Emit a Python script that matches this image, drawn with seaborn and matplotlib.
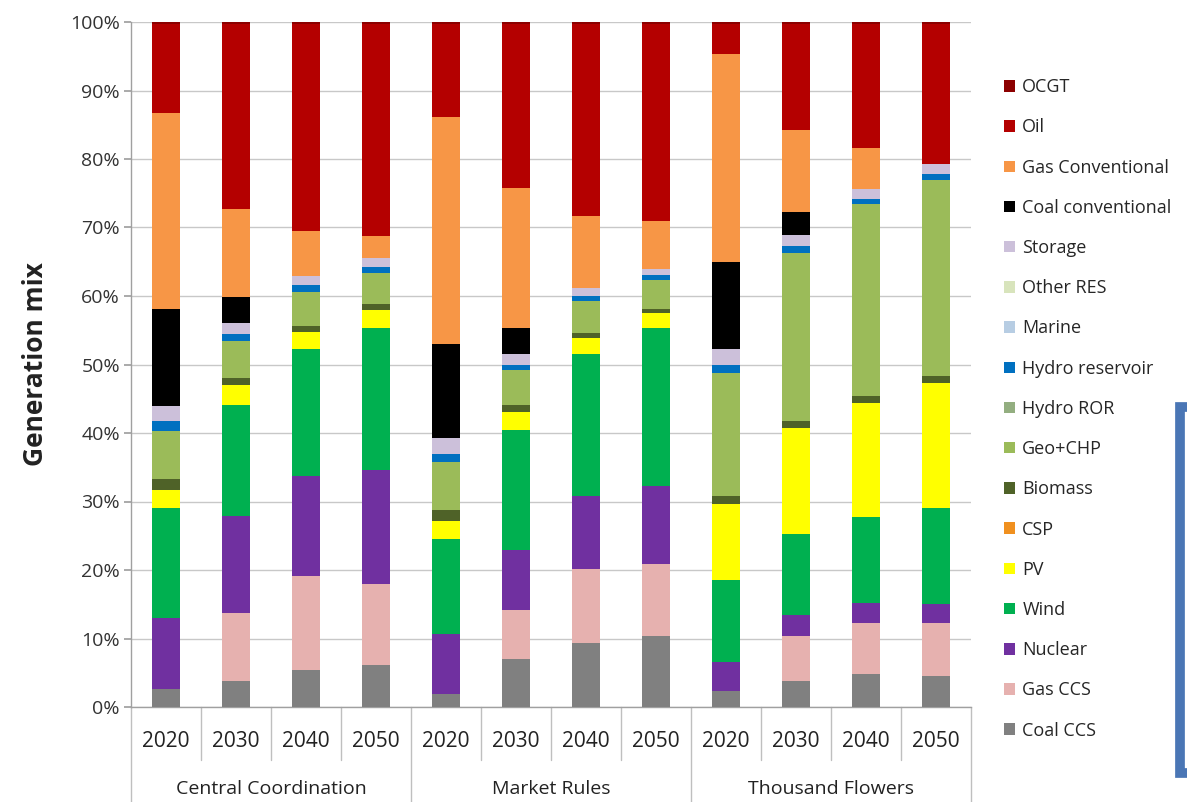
import numpy as np
import pandas as pd
import matplotlib
matplotlib.use("Agg")
import matplotlib.pyplot as plt
from matplotlib.patches import Rectangle, Patch
from matplotlib.transforms import blended_transform_factory
import seaborn as sns

# Scenario / year layout
scenarios = ["Central Coordination", "Market Rules", "Thousand Flowers"]
years = ["2020", "2030", "2040", "2050"]

# Technologies, bottom of the stack first
technologies = ["Coal CCS", "Gas CCS", "Nuclear", "Wind", "PV", "CSP", "Biomass",
                "Geo+CHP", "Hydro ROR", "Hydro reservoir", "Marine", "Other RES",
                "Storage", "Coal conventional", "Gas Conventional", "Oil", "OCGT"]

# Share of generation (%) per bar: CC 2020..2050, MR 2020..2050, TF 2020..2050
coal_ccs = [2.6, 3.8, 5.4, 6.2, 1.9, 7.0, 9.4, 10.3, 2.4, 3.8, 4.8, 4.5]
gas_ccs = [0.0, 9.9, 13.7, 11.8, 0.0, 7.1, 10.7, 10.6, 0.0, 6.6, 7.4, 7.7]
nuclear = [10.4, 14.2, 14.6, 16.6, 8.8, 8.8, 10.7, 11.4, 4.1, 3.0, 3.0, 2.8]
wind = [16.0, 16.2, 18.6, 20.8, 13.8, 17.5, 20.8, 23.1, 12.0, 11.9, 12.5, 14.1]
pv = [2.7, 2.9, 2.4, 2.5, 2.6, 2.7, 2.2, 2.1, 11.1, 15.4, 16.7, 18.2]
csp = [0.0] * 12
biomass = [1.6, 1.1, 0.9, 0.9, 1.7, 1.0, 0.8, 0.6, 1.2, 1.0, 1.0, 1.0]
geo_chp = [7.0, 5.4, 5.0, 4.6, 7.0, 5.1, 4.6, 4.2, 18.0, 24.6, 28.0, 28.6]
hydro_ror = [0.0] * 12
hydro_res = [1.5, 0.9, 1.0, 0.9, 1.1, 0.8, 0.8, 0.8, 1.2, 1.0, 0.8, 0.9]
marine = [0.0] * 12
other_res = [0.0] * 12
storage = [2.1, 1.7, 1.3, 1.3, 2.3, 1.6, 1.1, 0.9, 2.2, 1.6, 1.4, 1.5]
coal_conv = [14.2, 3.7, 0.0, 0.0, 13.8, 3.7, 0.0, 0.0, 12.8, 3.3, 0.0, 0.0]
gas_conv = [28.6, 12.9, 6.6, 3.1, 33.2, 20.4, 10.6, 7.0, 30.4, 12.0, 6.0, 0.0]
oil = [13.0, 27.0, 30.2, 31.0, 13.5, 24.0, 28.0, 28.7, 4.3, 15.5, 18.1, 20.4]
ocgt = [0.3] * 12

series = [coal_ccs, gas_ccs, nuclear, wind, pv, csp, biomass, geo_chp, hydro_ror,
          hydro_res, marine, other_res, storage, coal_conv, gas_conv, oil, ocgt]

colors = ["#808080", "#E6B1AF", "#7030A0", "#00B050", "#FFFF00", "#F0901F",
          "#4F6228", "#9BBB59", "#93AE80", "#0070C0", "#B7CDE3", "#D8E4BC",
          "#CCC0DA", "#000000", "#F79646", "#B40000", "#8C0000"]

bar_ids = [f"{s}|{y}" for s in scenarios for y in years]

share = pd.DataFrame(np.array(series).T, index=bar_ids, columns=technologies)
share = share.div(share.sum(axis=1), axis=0)      # normalise to 100 %
cumulative = share.cumsum(axis=1)

sns.set_theme(style="white")
plt.rcParams["font.family"] = ["Open Sans", "DejaVu Sans"]

fig = plt.figure(figsize=(11.87, 8.02), dpi=100)
ax = fig.add_axes([131 / 1187, 1 - 707 / 802, 840 / 1187, 685 / 802])

# Stacked bars: draw cumulative totals from the top of the stack down
for tech, col in zip(reversed(technologies), reversed(colors)):
    df = pd.DataFrame({"bar": bar_ids, "top": cumulative[tech].values})
    sns.barplot(data=df, x="bar", y="top", order=bar_ids, color=col,
                width=0.4, saturation=1, linewidth=0, ax=ax, zorder=3)

ax.set_xlim(-0.5, len(bar_ids) - 0.5)
ax.set_ylim(0, 1)
yt = np.arange(0, 1.01, 0.1)
ax.set_yticks(yt)
ax.set_yticklabels([f"{int(round(v * 100))}%" for v in yt], fontsize=14,
                   color="#333333")
ax.yaxis.grid(True, color="#C8C8C8", linewidth=1)
ax.set_axisbelow(True)
ax.tick_params(axis="y", length=5, color="#A0A0A0", pad=3, left=True)
ax.set_ylabel("Generation mix", fontsize=19, fontweight="bold",
              color="#222222")
ax.yaxis.set_label_coords(-0.098, 0.5)
ax.set_xlabel("")
ax.set_xticks([])
for side in ["top", "right"]:
    ax.spines[side].set_visible(False)
for side in ["left", "bottom"]:
    ax.spines[side].set_color("#A0A0A0")
    ax.spines[side].set_linewidth(1)

# Two-level category axis
tr = blended_transform_factory(ax.transData, ax.transAxes)
for i, bid in enumerate(bar_ids):
    ax.text(i, -0.051, bid.split("|")[1], transform=tr, ha="center",
            va="center", fontsize=15, color="#222222")
for k in range(len(bar_ids) + 1):
    x = k - 0.5
    y_end = -0.139 if k % len(years) == 0 else -0.078
    ax.plot([x, x], [0, y_end], transform=tr, color="#BFBFBF", lw=1,
            clip_on=False)
for j, sc in enumerate(scenarios):
    xc = j * len(years) + (len(years) - 1) / 2
    ax.text(xc, -0.12, sc, transform=tr, ha="center", va="center",
            fontsize=14, color="#222222")

# Legend, top of stack first
handles = [Patch(facecolor=c, edgecolor="none") for c in reversed(colors)]
fig.legend(handles, list(reversed(technologies)), loc="upper left",
           bbox_to_anchor=(997 / 1187, 1 - 71 / 802), frameon=False,
           fontsize=13, handlelength=0.6, handleheight=0.6,
           handletextpad=0.4, labelspacing=1.23, borderaxespad=0)

# Framed text box at the right edge
fig.patches.append(Rectangle((1180 / 1187, 1 - 773 / 802), 40 / 1187,
                             366 / 802, transform=fig.transFigure,
                             facecolor="white", edgecolor="#4A76B5",
                             linewidth=7, zorder=5))

fig.savefig("out.png", dpi=100)
